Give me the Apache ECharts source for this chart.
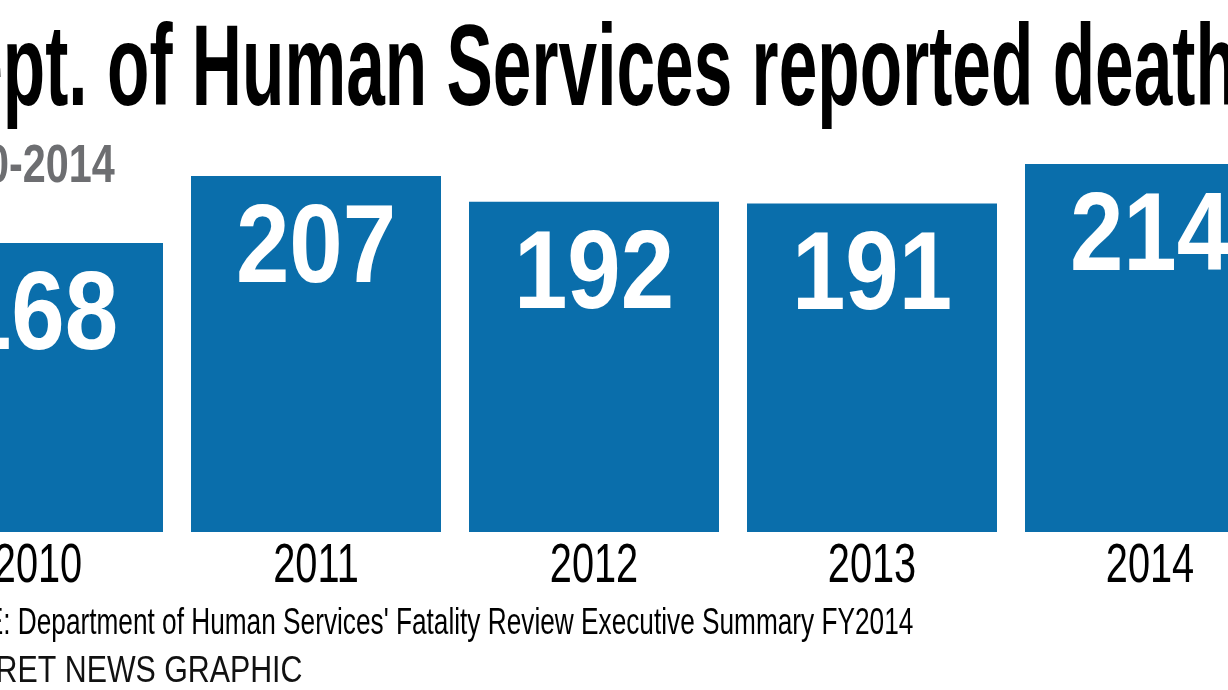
<!DOCTYPE html>
<html>
<head>
<meta charset="utf-8">
<title>Dept. of Human Services reported deaths</title>
<script src="https://cdn.jsdelivr.net/npm/echarts@6/dist/echarts.min.js"></script>
<style>
  html, body { margin: 0; padding: 0; background: #fff; }
  #chart { width: 1228px; height: 690px; }
</style>
</head>
<body>
<div id="chart"></div>
<script>
var years = ['2010', '2011', '2012', '2013', '2014'];
var deaths = [168, 207, 192, 191, 214];

var titleText = 'Dept. of Human Services reported deaths';
var subtitleText = '2010-2014';
var sourceText = "SOURCE: Department of Human Services' Fatality Review Executive Summary FY2014";
var creditText = 'DESERET NEWS GRAPHIC';

var BLUE = '#0a6eab';
var FONT = '"Liberation Sans", Arial, sans-serif';

var myChart = echarts.init(document.getElementById('chart'));

// labels are drawn by a custom series so that they can be squeezed
// horizontally (no condensed face is installed)
var labelData = deaths.map(function(v, i) { return [i, v]; });

function renderLabels(params, api) {
    var i = api.value(0);
    var top = api.coord([i, api.value(1)]);
    var base = api.coord([i, 0]);
    return {
        type: 'group',
        children: [{
            type: 'text',
            x: top[0],
            y: top[1] + 19,
            scaleX: 0.857,
            style: {
                text: String(api.value(1)),
                fontFamily: FONT,
                fontWeight: 'bold',
                fontSize: 112,
                fill: '#fff',
                align: 'center',
                verticalAlign: 'top'
            }
        }, {
            type: 'text',
            x: base[0],
            y: base[1] + 7,
            scaleX: 0.71,
            style: {
                text: years[i],
                fontFamily: FONT,
                fontSize: 56,
                fill: '#000',
                align: 'center',
                verticalAlign: 'top'
            }
        }]
    };
}

var option = {
    backgroundColor: '#ffffff',
    animation: false,
    grid: {
        left: -101,
        right: -61,
        top: 102,
        bottom: 158,
        containLabel: false,
        outerBoundsMode: 'none'
    },
    xAxis: {
        type: 'category',
        data: years,
        axisLine: { show: false },
        axisTick: { show: false },
        axisLabel: { show: false }
    },
    yAxis: {
        type: 'value',
        min: 0,
        max: 250,
        show: false,
        splitLine: { show: false }
    },
    series: [{
        type: 'bar',
        data: deaths,
        barWidth: 250,
        itemStyle: { color: BLUE }
    }, {
        type: 'custom',
        data: labelData,
        z: 5,
        renderItem: renderLabels
    }],
    graphic: [
        // big headline, condensed by scaling
        {
            type: 'text',
            x: -86,
            y: 16,
            scaleX: 0.604,
            style: {
                text: titleText,
                fontFamily: FONT,
                fontWeight: 'bold',
                fontSize: 115,
                fill: '#000',
                align: 'left',
                verticalAlign: 'top'
            }
        },
        {
            type: 'text',
            x: -83,
            y: 141,
            scaleX: 0.78,
            style: {
                text: subtitleText,
                fontFamily: FONT,
                fontWeight: 'bold',
                fontSize: 53,
                fill: '#6d6e71',
                align: 'left',
                verticalAlign: 'top'
            }
        },
        {
            type: 'text',
            x: -109,
            y: 606,
            scaleX: 0.7285,
            style: {
                text: sourceText,
                fontFamily: FONT,
                fontSize: 36,
                fill: '#000',
                align: 'left',
                verticalAlign: 'top'
            }
        },
        {
            type: 'text',
            x: -87,
            y: 653,
            scaleX: 0.82,
            style: {
                text: creditText,
                fontFamily: FONT,
                fontSize: 37,
                fill: '#111',
                align: 'left',
                verticalAlign: 'top'
            }
        }
    ]
};

myChart.setOption(option);
</script>
</body>
</html>
